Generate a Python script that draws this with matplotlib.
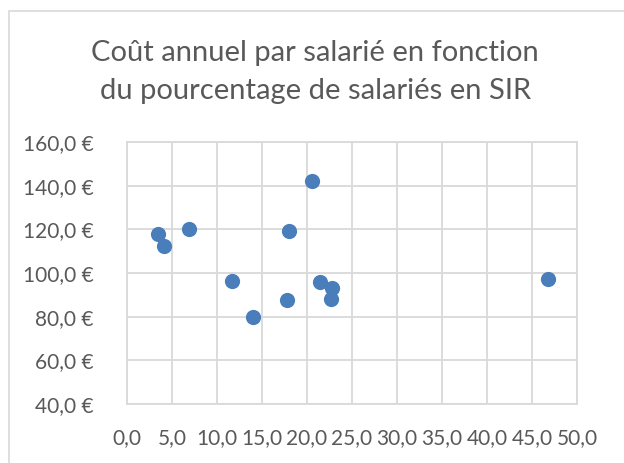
import matplotlib.pyplot as plt
from matplotlib.patches import Rectangle
from matplotlib.ticker import FuncFormatter

# % of employees in SIR vs annual cost per employee
pct_sir = [3.4, 4.1, 6.9, 11.7, 14.0, 17.8, 18.0, 20.6, 21.4, 22.8, 22.7, 46.8]
cost = [117.7, 112.4, 120.3, 96.5, 79.7, 87.6, 119.4, 142.1, 95.9, 93.3, 87.9, 97.2]

x_ticks = [0, 5, 10, 15, 20, 25, 30, 35, 40, 45, 50]
y_ticks = [40, 60, 80, 100, 120, 140, 160]

title = "Coût annuel par salarié en fonction\ndu pourcentage de salariés en SIR"

plt.rcParams['font.family'] = ['Lato', 'DejaVu Sans']
text_col = '#595959'
grid_col = '#D9D9D9'

fig = plt.figure(figsize=(6.24, 4.63), dpi=100)
ax = fig.add_axes([0.2035, 0.1274, 0.7212, 0.5659])

ax.scatter(pct_sir, cost, s=120, color='#4A7EBB', zorder=3, linewidths=0)

ax.set_xlim(0, 50)
ax.set_ylim(40, 160)
ax.set_xticks(x_ticks)
ax.set_yticks(y_ticks)
ax.xaxis.set_major_formatter(FuncFormatter(lambda v, p: f"{v:.1f}".replace('.', ',')))
ax.yaxis.set_major_formatter(FuncFormatter(lambda v, p: f"{v:.1f} €".replace('.', ',')))
ax.tick_params(length=0, labelsize=15, labelcolor=text_col)
ax.tick_params(axis='x', pad=17)
ax.tick_params(axis='y', pad=24)
ax.grid(True, color=grid_col, linewidth=1.3)
ax.set_axisbelow(True)
for s in ax.spines.values():
    s.set_color(grid_col)
    s.set_linewidth(1.3)

fig.text(0.505, 1 - 72 / 463, title, ha='center', va='center', fontsize=21,
         color=text_col, linespacing=1.6)

# chart area border
fig.patches.append(Rectangle((9 / 624, -0.01), 0.99, 1 - 11 / 463 + 0.01,
                             transform=fig.transFigure, fill=False,
                             edgecolor=grid_col, linewidth=1.2))

fig.savefig('out.png', dpi=100)
